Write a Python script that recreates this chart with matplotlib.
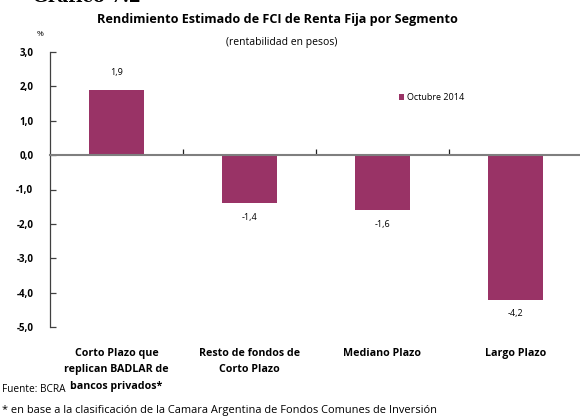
import matplotlib
matplotlib.use("Agg")
import matplotlib.pyplot as plt
import matplotlib.transforms as mtransforms

categorias = [
    "Corto Plazo que\nreplican BADLAR de\nbancos privados*",
    "Resto de fondos de\nCorto Plazo",
    "Mediano Plazo",
    "Largo Plazo",
]
valores = [1.9, -1.4, -1.6, -4.2]
etiquetas = ["1,9", "-1,4", "-1,6", "-4,2"]
yticks = [3, 2, 1, 0, -1, -2, -3, -4, -5]
serie = "Octubre 2014"

COLOR = "#993366"
FUENTE = "Open Sans"


def main():
    plt.rcParams["font.family"] = [FUENTE, "DejaVu Sans"]
    fig = plt.figure(figsize=(5.8, 4.17), dpi=100)
    ax = fig.add_axes([50 / 580, 90 / 417, 532 / 580, 275 / 417])

    x = list(range(len(valores)))
    ax.bar(x, valores, width=0.41, color=COLOR, label=serie, zorder=2)

    ax.set_xlim(-0.5, len(valores) - 0.5)
    ax.set_ylim(-5, 3)

    for sp in ["top", "right"]:
        ax.spines[sp].set_visible(False)
    ax.spines["left"].set_color("#404040")
    ax.spines["left"].set_linewidth(0.9)
    ax.spines["bottom"].set_position(("data", 0))
    ax.spines["bottom"].set_color("#7f7f7f")
    ax.spines["bottom"].set_linewidth(1.5)
    ax.spines["bottom"].set_zorder(3)

    ax.set_yticks(yticks)
    ax.set_yticklabels([f"{v:.1f}".replace(".", ",") for v in yticks],
                       fontweight="bold", fontsize=7)
    ax.tick_params(axis="y", direction="in", length=4, width=0.9,
                   color="#404040", pad=12)

    ax.set_xticks([0.5, 1.5, 2.5])
    ax.set_xticklabels([])
    ax.tick_params(axis="x", direction="in", length=4, width=0.9, color="#202020")

    # etiquetas de valor
    for xi, v, t in zip(x, valores, etiquetas):
        if v >= 0:
            ax.annotate(t, (xi, v), xytext=(0, 9), textcoords="offset points",
                        ha="center", va="bottom", fontsize=6.5)
        else:
            ax.annotate(t, (xi, v), xytext=(0, -7), textcoords="offset points",
                        ha="center", va="top", fontsize=6.5)

    # categorias debajo del eje
    trans = mtransforms.blended_transform_factory(ax.transData, ax.transAxes)
    for xi, c in zip(x, categorias):
        ax.text(xi, -0.075, c, transform=trans, ha="center", va="top",
                fontsize=7.7, fontweight="bold", linespacing=1.68)

    ax.legend(loc="upper left", bbox_to_anchor=(0.64, 0.88), frameon=False,
              fontsize=6.5, handlelength=0.6, handleheight=0.6, handletextpad=0.3)

    fig.text(33 / 580, 1 - 2.5 / 417, "Gráfico 7.2", family="DejaVu Serif",
             fontweight="bold", fontsize=12.5, ha="left", va="baseline")
    fig.text(277 / 580, 1 - 20 / 417,
             "Rendimiento Estimado de FCI de Renta Fija por Segmento",
             ha="center", va="center", fontsize=9.1, fontweight="bold")
    fig.text(282 / 580, 1 - 42 / 417, "(rentabilidad en pesos)",
             ha="center", va="center", fontsize=7.5)
    fig.text(40 / 580, 1 - 35 / 417, "%", ha="center", va="center", fontsize=6)
    fig.text(2 / 580, 1 - 389 / 417, "Fuente: BCRA", ha="left", va="center",
             fontsize=7.3)
    fig.text(2 / 580, 1 - 410 / 417,
             "* en base a la clasificación de la Camara Argentina de Fondos Comunes de Inversión",
             ha="left", va="center", fontsize=7.9)

    fig.savefig("out.png", dpi=100)


if __name__ == "__main__":
    main()
